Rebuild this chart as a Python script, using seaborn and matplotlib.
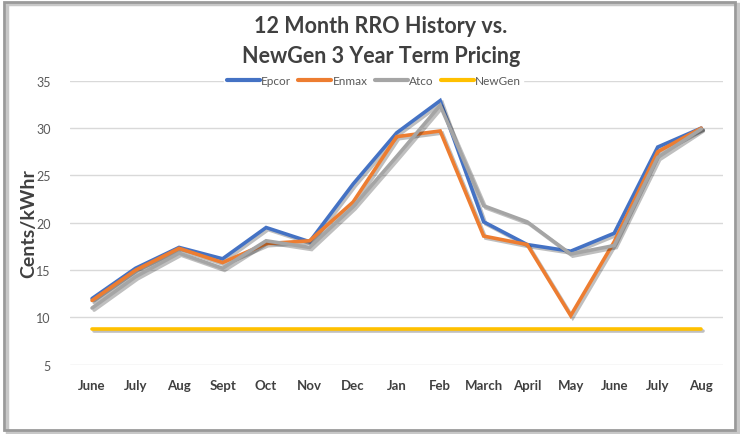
import pandas as pd
import matplotlib
matplotlib.use('Agg')
import matplotlib.pyplot as plt
import matplotlib.patheffects as pe
from matplotlib.patches import Rectangle
import seaborn as sns

months = ['June', 'July', 'Aug', 'Sept', 'Oct', 'Nov', 'Dec', 'Jan', 'Feb',
          'March', 'April', 'May', 'June', 'July', 'Aug']
epcor = [12.0, 15.2, 17.4, 16.2, 19.5, 18.0, 24.1, 29.5, 32.9, 20.1, 17.7, 17.0, 18.9, 28.0, 30.0]
enmax = [11.8, 15.0, 17.3, 15.8, 17.8, 18.1, 22.2, 29.1, 29.7, 18.6, 17.7, 10.2, 18.0, 27.5, 30.0]
atco = [11.0, 14.3, 16.8, 15.2, 18.1, 17.4, 21.7, 27.0, 32.4, 21.8, 20.1, 16.7, 17.6, 26.9, 29.9]
newgen = [8.8] * 15

series = {'Epcor': epcor, 'Enmax': enmax, 'Atco': atco, 'NewGen': newgen}
colors = {'Epcor': '#4472C4', 'Enmax': '#ED7D31', 'Atco': '#A5A5A5', 'NewGen': '#FFC000'}

rows = []
for name, vals in series.items():
    for i, v in enumerate(vals):
        rows.append({'idx': i, 'value': v, 'series': name})
df = pd.DataFrame(rows)

sns.set_style('white')
plt.rcParams['font.family'] = ['Lato', 'DejaVu Sans']

fig = plt.figure(figsize=(7.4, 4.35), dpi=100)
fig.patch.set_facecolor('white')
ax = fig.add_axes([0.095, 0.159, 0.882, 0.653])

sns.lineplot(data=df, x='idx', y='value', hue='series', palette=colors,
             linewidth=2.6, ax=ax, legend=True)
for line in ax.get_lines():
    line.set_path_effects([pe.SimpleLineShadow(offset=(1.5, -1.5), alpha=0.25),
                           pe.Normal()])
    line.set_solid_joinstyle('miter')

ax.set_xlim(-0.5, 14.5)
ax.set_ylim(5, 35)
ax.set_yticks(range(5, 36, 5))
ax.set_xticks(range(len(months)))
ax.set_xticklabels(months, fontweight='bold', fontsize=9.5, color='#404040')
ax.tick_params(axis='y', labelsize=9, labelcolor='#595959', length=0, pad=14)
ax.tick_params(axis='x', length=0, pad=10)
ax.grid(axis='y', color='#D9D9D9', linewidth=1)
ax.set_axisbelow(True)
for s in ax.spines.values():
    s.set_visible(False)
ax.set_xlabel('')
ax.set_ylabel('Cents/kWhr', fontsize=14, fontweight='bold', color='#404040')
ax.yaxis.set_label_coords(-0.05, 0.5)

leg = ax.legend(loc='center', bbox_to_anchor=(0.465, 1.0), ncol=4, frameon=True,
                fontsize=8.5, handlelength=2.8, columnspacing=0.6, handletextpad=0.1,
                borderpad=0.2, facecolor='white', edgecolor='white', framealpha=1)
for t in leg.get_texts():
    t.set_color('#595959')
for h in leg.get_lines():
    h.set_linewidth(3)
    h.set_path_effects([])

fig.text(0.515, 0.905, '12 Month RRO History vs.\nNewGen 3 Year Term Pricing',
         ha='center', va='center', fontsize=15.5, fontweight='bold', color='#404040',
         linespacing=1.5)

# frame with a soft shadow
fig.patches.append(Rectangle((0.009, 0.004), 0.988, 0.984, transform=fig.transFigure,
                             fill=False, edgecolor='#C8C8C8', linewidth=2.5))
fig.patches.append(Rectangle((0.005, 0.010), 0.988, 0.984, transform=fig.transFigure,
                             fill=False, edgecolor='#9A9A9A', linewidth=2))

fig.savefig('out.png', dpi=100)
